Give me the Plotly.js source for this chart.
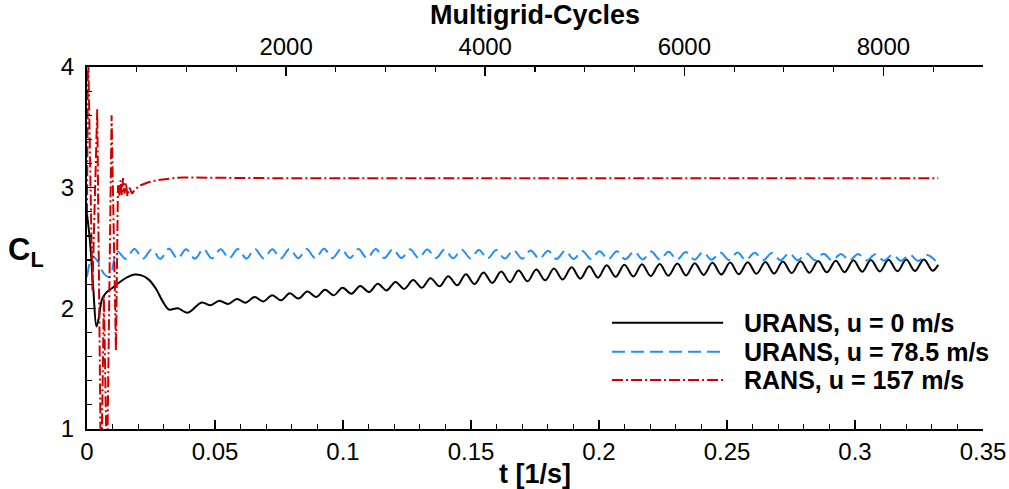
<!DOCTYPE html>
<html>
<head>
<meta charset="utf-8">
<script src="https://cdn.plot.ly/plotly-3.0.1.min.js"></script>
<style>html,body{margin:0;padding:0;background:#fff;}#chart{width:1009px;height:489px;}</style>
</head>
<body>
<div id="chart"></div>
<script>
// ---- data ----
const seriesNames = ["URANS, u = 0 m/s", "URANS, u = 78.5 m/s", "RANS, u = 157 m/s"];

const tBlack = [0, 0.0012, 0.0025, 0.0037, 0.0046, 0.0058, 0.0075, 0.010, 0.013, 0.016, 0.0185, 0.021, 0.024, 0.027, 0.0295, 0.032, 0.0355, 0.0393,
  0.0448, 0.0482, 0.0517, 0.0551, 0.0586, 0.0620, 0.0654, 0.0689, 0.0723, 0.0758,
  0.0792, 0.0826, 0.0861, 0.0895, 0.0930, 0.0964, 0.0998, 0.1033, 0.1067, 0.1102,
  0.1136, 0.1170, 0.1205, 0.1239, 0.1274, 0.1308, 0.1342, 0.1377, 0.1411, 0.1446,
  0.1480, 0.1514, 0.1549, 0.1583, 0.1618, 0.1652, 0.1686, 0.1721, 0.1755, 0.1790,
  0.1824, 0.1858, 0.1893, 0.1927, 0.1962, 0.1996, 0.2030, 0.2065, 0.2099, 0.2134,
  0.2168, 0.2202, 0.2237, 0.2271, 0.2306, 0.2340, 0.2374, 0.2409, 0.2443, 0.2478,
  0.2512, 0.2546, 0.2581, 0.2615, 0.2650, 0.2684, 0.2718, 0.2753, 0.2787, 0.2822,
  0.2856, 0.2890, 0.2925, 0.2959, 0.2994, 0.3028, 0.3062, 0.3097, 0.3131, 0.3166,
  0.3200, 0.3234, 0.3269, 0.3303, 0.3325];
const clBlack = [2.78, 2.55, 2.15, 1.85, 1.92, 2.07, 2.13, 2.17, 2.22, 2.26, 2.28, 2.275, 2.24, 2.16, 2.06, 1.99, 2.0, 1.963,
  2.049, 2.026, 2.063, 2.036, 2.078, 2.047, 2.093, 2.057, 2.108, 2.067,
  2.124, 2.081, 2.140, 2.094, 2.155, 2.108, 2.171, 2.121, 2.186, 2.135,
  2.203, 2.148, 2.219, 2.161, 2.234, 2.171, 2.250, 2.182, 2.266, 2.191,
  2.282, 2.201, 2.296, 2.210, 2.305, 2.217, 2.313, 2.224, 2.322, 2.232,
  2.331, 2.239, 2.340, 2.246, 2.348, 2.254, 2.358, 2.261, 2.362, 2.264,
  2.365, 2.267, 2.368, 2.270, 2.371, 2.273, 2.374, 2.277, 2.377, 2.280,
  2.379, 2.283, 2.382, 2.286, 2.385, 2.288, 2.388, 2.292, 2.390, 2.295,
  2.392, 2.298, 2.395, 2.300, 2.398, 2.303, 2.400, 2.305, 2.402, 2.307,
  2.404, 2.310, 2.405, 2.312, 2.36];

const tBlue = [0, 0.0022, 0.0045, 0.0065, 0.0088,
  0.0118, 0.0152, 0.0185, 0.0219, 0.0253, 0.0286, 0.0320, 0.0354, 0.0387, 0.0421,
  0.0455, 0.0488, 0.0522, 0.0555, 0.0589, 0.0623, 0.0656, 0.0690, 0.0724, 0.0757,
  0.0791, 0.0825, 0.0858, 0.0892, 0.0926, 0.0959, 0.0993, 0.1027, 0.1060, 0.1094,
  0.1128, 0.1161, 0.1195, 0.1228, 0.1262, 0.1296, 0.1329, 0.1363, 0.1397, 0.1430,
  0.1464, 0.1498, 0.1531, 0.1565, 0.1599, 0.1632, 0.1666, 0.1700, 0.1733, 0.1767,
  0.1801, 0.1834, 0.1868, 0.1901, 0.1935, 0.1969, 0.2002, 0.2036, 0.2070, 0.2103,
  0.2137, 0.2171, 0.2204, 0.2238, 0.2272, 0.2305, 0.2339, 0.2373, 0.2406, 0.2440,
  0.2474, 0.2507, 0.2541, 0.2574, 0.2608, 0.2642, 0.2675, 0.2709, 0.2743, 0.2776,
  0.2810, 0.2844, 0.2877, 0.2911, 0.2945, 0.2978, 0.3012, 0.3046, 0.3079, 0.3113,
  0.3147, 0.3180, 0.3214, 0.3247, 0.3281, 0.3315];
const clBlue = [2.26, 2.43, 2.38, 2.29, 2.26,
  2.470, 2.410, 2.492, 2.412, 2.489, 2.410, 2.493, 2.412, 2.490, 2.411,
  2.491, 2.413, 2.490, 2.414, 2.492, 2.412, 2.491, 2.414, 2.490, 2.413,
  2.492, 2.416, 2.491, 2.415, 2.493, 2.416, 2.492, 2.417, 2.491, 2.416,
  2.491, 2.417, 2.490, 2.417, 2.489, 2.416, 2.488, 2.416, 2.487, 2.415,
  2.486, 2.414, 2.484, 2.413, 2.483, 2.412, 2.481, 2.411, 2.480, 2.410,
  2.478, 2.409, 2.477, 2.408, 2.476, 2.408, 2.474, 2.407, 2.473, 2.406,
  2.471, 2.405, 2.470, 2.404, 2.468, 2.404, 2.467, 2.403, 2.465, 2.402,
  2.463, 2.401, 2.462, 2.400, 2.460, 2.400, 2.458, 2.399, 2.457, 2.398,
  2.454, 2.398, 2.453, 2.397, 2.451, 2.397, 2.450, 2.396, 2.448, 2.395,
  2.445, 2.394, 2.444, 2.393, 2.443, 2.393];

const tRed = [0, 0.0004, 0.0021, 0.0040, 0.0055, 0.0066, 0.0078, 0.0096, 0.0113, 0.0121, 0.0126, 0.0131, 0.0136, 0.0141, 0.0146, 0.0152, 0.0158, 0.0166, 0.0176,
  0.019, 0.021, 0.024, 0.027, 0.030, 0.034, 0.038, 0.043, 0.05, 0.06, 0.08, 0.12, 0.2, 0.3325];
const clRed = [2.78, 4.2, 2.15, 3.65, 0.5, 2.1, 0.6, 3.6, 1.65, 3.02, 2.93, 3.06, 2.94, 3.08, 2.95, 3.04, 2.93, 3.0, 2.95,
  2.99, 3.02, 3.045, 3.06, 3.07, 3.08, 3.085, 3.085, 3.082, 3.08, 3.078, 3.078, 3.078, 3.078];

const cyclesRange = [0, 9000];
const cyclesTicks = [2000, 4000, 6000, 8000];
const colors = ["#000000", "#1e8fff", "#d00000"];
const dashes = ["solid", "13px,6px", "11px,3px,2px,3px"];

// ---- figure ----
const FONT = "Liberation Sans, Arial, Helvetica, sans-serif";
const tickFont = {family: FONT, size: 24, color: "#000"};
const titleFont = {family: FONT, size: 27, color: "#000"};

const traces = [
  {x: tBlack, y: clBlack, mode: "lines", line: {color: colors[0], width: 2, shape: "spline", smoothing: 1, dash: dashes[0]}, name: seriesNames[0], showlegend: false, hoverinfo: "skip"},
  {x: tBlue, y: clBlue, mode: "lines", line: {color: colors[1], width: 2, shape: "spline", smoothing: 1, dash: dashes[1]}, name: seriesNames[1], showlegend: false, hoverinfo: "skip"},
  {x: tRed, y: clRed, mode: "lines", line: {color: colors[2], width: 2, dash: dashes[2]}, name: seriesNames[2], showlegend: false, hoverinfo: "skip"},
  {x: cyclesRange, y: [0, 0], xaxis: "x2", yaxis: "y", mode: "lines", opacity: 0, showlegend: false, hoverinfo: "skip"}
];

// custom legend (long line samples)
const legRows = [0.2937, 0.2135, 0.1354];
const shapes = [];
const annotations = [];
for (let i = 0; i < 3; i++) {
  shapes.push({type: "line", xref: "paper", yref: "paper", x0: 0.586, x1: 0.710, y0: legRows[i], y1: legRows[i],
    line: {color: colors[i], width: 2, dash: dashes[i]}});
  annotations.push({xref: "paper", yref: "paper", x: 0.731, y: legRows[i], xanchor: "left", yanchor: "middle",
    text: "<b>" + seriesNames[i] + "</b>", showarrow: false, font: {family: FONT, size: 25, color: "#000"}});
}
annotations.push({xref: "paper", yref: "paper", x: -0.068, y: 0.49, xanchor: "center", yanchor: "middle",
  text: "<b>C</b><sub><b>L</b></sub>", showarrow: false, font: {family: FONT, size: 31, color: "#000"}});

const layout = {
  width: 1009, height: 489,
  margin: {l: 87, r: 26, t: 67, b: 60, pad: 0},
  paper_bgcolor: "#fff", plot_bgcolor: "#fff",
  showlegend: false,
  xaxis: {
    range: [0, 0.35], tickmode: "linear", tick0: 0, dtick: 0.05,
    ticks: "inside", ticklen: 9, tickwidth: 1.5, tickcolor: "#000",
    minor: {tickmode: "linear", tick0: 0, dtick: 0.01, ticks: "inside", ticklen: 5, tickwidth: 1.2, tickcolor: "#000"},
    showline: true, linewidth: 2, linecolor: "#000", showgrid: false, zeroline: false,
    tickfont: tickFont,
    title: {text: "<b>t [1/s]</b>", font: titleFont, standoff: 4}
  },
  xaxis2: {
    overlaying: "x", side: "top", anchor: "y",
    range: cyclesRange, tickmode: "array", tickvals: cyclesTicks, ticktext: cyclesTicks.map(String),
    ticks: "inside", ticklen: 9, tickwidth: 1.5, tickcolor: "#000",
    minor: {tickmode: "linear", tick0: 0, dtick: 500, ticks: "inside", ticklen: 5, tickwidth: 1.2, tickcolor: "#000"},
    showline: true, linewidth: 2, linecolor: "#000", showgrid: false, zeroline: false,
    tickfont: tickFont,
    title: {text: "<b>Multigrid-Cycles</b>", font: titleFont, standoff: 4}
  },
  yaxis: {
    range: [1, 4], tickmode: "linear", tick0: 1, dtick: 1,
    ticks: "inside", ticklen: 9, tickwidth: 1.5, tickcolor: "#000",
    minor: {tickmode: "linear", tick0: 1, dtick: 0.2, ticks: "inside", ticklen: 5, tickwidth: 1.2, tickcolor: "#000"},
    showline: true, linewidth: 2, linecolor: "#000", showgrid: false, zeroline: false,
    tickfont: tickFont, ticklabelstandoff: 6
  },
  shapes: shapes,
  annotations: annotations
};

Plotly.newPlot("chart", traces, layout, {displayModeBar: false, staticPlot: true});
</script>
</body>
</html>
